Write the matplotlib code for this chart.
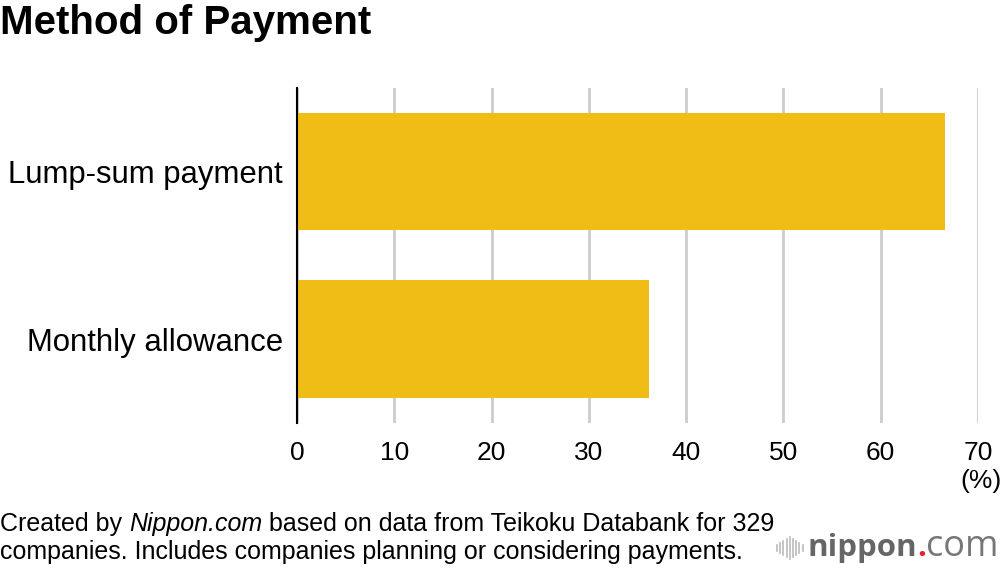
import matplotlib.pyplot as plt
from matplotlib.lines import Line2D

plt.rcParams.update({
    "font.family": ["Liberation Sans", "DejaVu Sans"],
    "figure.facecolor": "white",
    "axes.facecolor": "white",
})

categories = ["Lump-sum payment", "Monthly allowance"]
values = [66.6, 36.2]
xticks = [0, 10, 20, 30, 40, 50, 60, 70]

W, H = 1000, 570
fig = plt.figure(figsize=(10, 5.7), dpi=100)
ax = fig.add_axes([0.297, 0.258, 0.681, 0.588])

ypos = [1, 0]
ax.barh(ypos, values, height=0.7, color="#F0BC16", zorder=2)

ax.set_xlim(0, 70)
ax.set_ylim(-0.5, 1.5)
ax.set_xticks(xticks)
ax.set_xticklabels([str(t) for t in xticks], fontsize=19)
ax.set_yticks(ypos)
ax.set_yticklabels(categories, fontsize=22.4)
ax.tick_params(axis="both", length=0, colors="black")
ax.tick_params(axis="x", pad=13)
ax.tick_params(axis="y", pad=10)

ax.grid(axis="x", color="#cccccc", linewidth=2, zorder=0)
for s in ["top", "right", "bottom"]:
    ax.spines[s].set_visible(False)
ax.spines["left"].set_color("black")
ax.spines["left"].set_linewidth(1.5)
ax.spines["left"].set_zorder(3)

fig.text(981 / W, 1 - 481 / H, "(%)", ha="center", va="center", fontsize=19)

fig.text(0.0, 1 - 34 / H, "Method of Payment", fontsize=29, fontweight="bold",
         ha="left", va="baseline")

renderer = fig.canvas.get_renderer()


def chain(parts, x0, y, **common):
    # place text pieces one after another on the same baseline
    x = x0
    for s, kw in parts:
        opts = dict(common)
        opts.update(kw)
        t = fig.text(x, y, s, ha="left", va="baseline", **opts)
        x = t.get_window_extent(renderer).x1 / W


fs = 18
chain([("Created by ", {}), ("Nippon.com", {"style": "italic"}),
       (" based on data from Teikoku Databank for 329", {})],
      0.0, 1 - 531 / H, fontsize=fs)
fig.text(0.0, 1 - 559 / H,
         "companies. Includes companies planning or considering payments.",
         fontsize=fs, ha="left", va="baseline")

# nippon.com logo
heights = [6, 10, 14, 18, 22, 18, 14, 10, 6]
yc = 1 - 548 / H
for i, h in enumerate(heights):
    x = (777 + i * 3.2) / W
    fig.add_artist(Line2D([x, x], [yc - h / 2 / H, yc + h / 2 / H],
                          color="#bbbbbb", linewidth=1.2))
chain([("nippon", {"fontweight": "bold", "color": "#666666", "fontsize": 22.5}),
       (".", {"fontweight": "bold", "color": "#e8202a", "fontsize": 22.5}),
       ("com", {"color": "#777777", "fontsize": 26})],
      808 / W, 1 - 556 / H, family="Open Sans")

fig.savefig("out.png", dpi=100, facecolor="white")
